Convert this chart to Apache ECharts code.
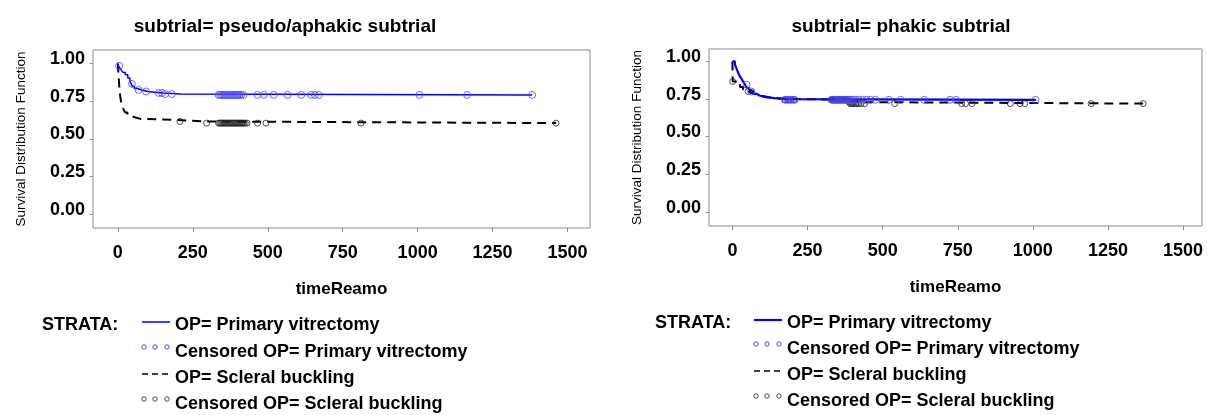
<!DOCTYPE html>
<html>
<head>
<meta charset="utf-8">
<script src="https://cdn.jsdelivr.net/npm/echarts@6.0.0/dist/echarts.min.js"></script>
<style>
  html, body { margin: 0; padding: 0; background: #fff; }
  #chart { width: 1207px; height: 415px; }
</style>
</head>
<body>
<div id="chart"></div>
<script>
// Kaplan-Meier survival estimates by operation, two subtrials.
// Step curves: times (days) and survival at each step.

const panelTitles = ['subtrial= pseudo/aphakic subtrial', 'subtrial= phakic subtrial'];
const xTicks = [0, 250, 500, 750, 1000, 1250, 1500];
const yTicks = [0, 0.25, 0.5, 0.75, 1.0];
const legendLabels = [
  'OP= Primary vitrectomy',
  'Censored OP= Primary vitrectomy',
  'OP= Scleral buckling',
  'Censored OP= Scleral buckling'
];

// --- pseudo/aphakic subtrial ---
const pvAphTime = [0, 2, 6, 12, 18, 25, 33, 40, 44, 48, 55, 65, 80, 100, 150, 210, 1382];
const pvAphSurv = [1.0, 0.985, 0.97, 0.955, 0.94, 0.925, 0.905, 0.885, 0.865, 0.85, 0.835, 0.825, 0.815, 0.805, 0.798, 0.792, 0.792];
const pvAphCens = [4, 47, 69, 94, 136, 147, 158, 180, 336, 341, 346, 351, 356, 361, 366, 371, 376, 381, 386, 391, 396, 401, 406, 411, 419, 466, 487, 520, 566, 612, 645, 657, 670, 1006, 1165, 1382];

const sbAphTime = [0, 1, 2, 3, 4, 5, 6, 8, 10, 13, 16, 20, 25, 32, 40, 50, 62, 75, 200, 290, 1462];
const sbAphSurv = [1.0, 0.96, 0.93, 0.9, 0.87, 0.84, 0.81, 0.78, 0.755, 0.73, 0.71, 0.69, 0.675, 0.66, 0.648, 0.64, 0.633, 0.626, 0.616, 0.605, 0.605];
const sbAphCens = [207, 296, 336, 340, 344, 348, 352, 356, 360, 364, 368, 372, 376, 380, 384, 388, 392, 396, 400, 404, 408, 412, 416, 420, 425, 431, 466, 494, 811, 1462];

// --- phakic subtrial ---
const pvPhaTime = [0, 8, 12, 16, 20, 25, 30, 36, 42, 48, 55, 62, 70, 80, 92, 110, 140, 175, 1010];
const pvPhaSurv = [1.0, 0.98, 0.96, 0.94, 0.92, 0.9, 0.885, 0.865, 0.845, 0.825, 0.81, 0.8, 0.785, 0.772, 0.763, 0.756, 0.75, 0.745, 0.745];
const pvPhaCens = [47, 63, 175, 182, 190, 198, 207, 330, 335, 340, 345, 350, 355, 360, 365, 370, 375, 380, 385, 390, 395, 402, 410, 420, 433, 446, 459, 476, 521, 560, 638, 724, 744, 1009];

const sbPhaTime = [0, 1, 15, 25, 35, 45, 55, 65, 80, 100, 130, 170, 385, 392, 1367];
const sbPhaSurv = [1.0, 0.867, 0.85, 0.83, 0.815, 0.8, 0.79, 0.78, 0.77, 0.76, 0.752, 0.745, 0.73, 0.72, 0.72];
const sbPhaCens = [1, 52, 175, 185, 195, 205, 330, 334, 338, 342, 346, 350, 354, 358, 362, 366, 370, 374, 378, 382, 388, 392, 396, 400, 405, 410, 415, 420, 428, 440, 540, 763, 776, 797, 925, 957, 973, 1194, 1367];

const FONT = '"Liberation Sans", Arial, Helvetica, sans-serif';
const BLUE = '#0000ff';
const BLUE_CENS = '#4a4aff';
const BLACK = '#000000';

function pairs(t, s) { return t.map((v, i) => [v, s[i]]); }
// survival level of a step curve at time x
function levelAt(t, s, x) {
  let v = s[0];
  for (let i = 0; i < t.length; i++) { if (t[i] <= x) v = s[i]; }
  return v;
}
function censPoints(t, s, c) { return c.map(x => [x, levelAt(t, s, x)]); }

const grids = [
  { left: 93, right: 617, top: 50, bottom: 187 },
  { left: 709, right: 5, top: 49, bottom: 189 }
];
const xRanges = [[-83, 1575], [-78, 1563]];
const yRanges = [[-0.091, 1.09], [-0.092, 1.082]];

const option = {
  backgroundColor: '#fff',
  animation: false,
  grid: grids.map(g => Object.assign({ show: true, borderColor: '#8c8c8c', borderWidth: 1, backgroundColor: '#fff' }, g)),
  xAxis: [0, 1].map(i => ({
    type: 'value', gridIndex: i, min: xRanges[i][0], max: xRanges[i][1], position: 'bottom',
    name: 'timeReamo', nameLocation: 'middle', nameGap: 53,
    nameTextStyle: { fontFamily: FONT, fontSize: 17, fontWeight: 'bold', color: '#000' },
    axisLine: { show: false, onZero: false },
    axisTick: { show: true, length: 4, customValues: xTicks, lineStyle: { color: '#8c8c8c' } },
    axisLabel: { customValues: xTicks, margin: 16, fontFamily: FONT, fontSize: 18, fontWeight: 'bold', color: '#000',
      formatter: v => String(v) },
    splitLine: { show: false }
  })),
  yAxis: [0, 1].map(i => ({
    type: 'value', gridIndex: i, min: yRanges[i][0], max: yRanges[i][1], position: 'left',
    name: 'Survival Distribution Function', nameLocation: 'middle', nameGap: 65,
    nameTextStyle: { fontFamily: FONT, fontSize: 13.5, color: '#000' },
    axisLine: { show: false, onZero: false },
    axisTick: { show: true, length: 3, customValues: yTicks, lineStyle: { color: '#8c8c8c' } },
    axisLabel: { customValues: yTicks, margin: 8, fontFamily: FONT, fontSize: 18, fontWeight: 'bold', color: '#000',
      verticalAlign: 'bottom', lineHeight: 9, formatter: v => v.toFixed(2) },
    splitLine: { show: false }
  })),
  series: []
};

const curves = [
  [pvAphTime, pvAphSurv, pvAphCens, sbAphTime, sbAphSurv, sbAphCens, 1.5],
  [pvPhaTime, pvPhaSurv, pvPhaCens, sbPhaTime, sbPhaSurv, sbPhaCens, 2.2]
];
curves.forEach((c, i) => {
  option.series.push(
    { type: 'line', name: 'OP=Scleral buckling', xAxisIndex: i, yAxisIndex: i, step: 'end', showSymbol: false,
      data: pairs(c[3], c[4]), lineStyle: { color: BLACK, width: 2, type: [9, 6] }, z: 2 },
    { type: 'line', name: 'OP=Primary vitrectomy', xAxisIndex: i, yAxisIndex: i, step: 'end', showSymbol: false,
      data: pairs(c[0], c[1]), lineStyle: { color: BLUE, width: c[6] }, z: 3 },
    { type: 'scatter', name: 'Censored SB', xAxisIndex: i, yAxisIndex: i, symbol: 'circle', symbolSize: 6,
      data: censPoints(c[3], c[4], c[5]),
      itemStyle: { color: 'rgba(255,255,255,0)', borderColor: '#222', borderWidth: 1 }, z: 4 },
    { type: 'scatter', name: 'Censored PV', xAxisIndex: i, yAxisIndex: i, symbol: 'circle', symbolSize: 7,
      data: censPoints(c[0], c[1], c[2]),
      itemStyle: { color: 'rgba(255,255,255,0)', borderColor: BLUE_CENS, borderWidth: 1 }, z: 5 }
  );
});

// Titles and STRATA legend blocks
const graphics = [];
const titleX = [285, 901];
panelTitles.forEach((t, i) => graphics.push({
  type: 'text', x: titleX[i], y: 27,
  style: { text: t, font: 'bold 19px ' + FONT, fill: '#000', align: 'center', verticalAlign: 'middle' }
}));

const legendGeo = [
  { strataX: 42, sampleX: 142, textX: 175, rows: [325, 352, 378, 404] },
  { strataX: 655, sampleX: 754, textX: 787, rows: [323, 349, 375, 401] }
];
legendGeo.forEach((g, i) => {
  graphics.push({ type: 'text', x: g.strataX, y: g.rows[0],
    style: { text: 'STRATA:', font: 'bold 18px ' + FONT, fill: '#000', verticalAlign: 'middle' } });
  legendLabels.forEach((lab, r) => graphics.push({ type: 'text', x: g.textX, y: g.rows[r],
    style: { text: lab, font: 'bold 18px ' + FONT, fill: '#000', verticalAlign: 'middle' } }));
  const sx = g.sampleX;
  graphics.push({ type: 'line', shape: { x1: sx, y1: g.rows[0] - 3, x2: sx + 28, y2: g.rows[0] - 3 },
    style: { stroke: BLUE, lineWidth: i === 0 ? 1.5 : 2.2 } });
  graphics.push({ type: 'line', shape: { x1: sx, y1: g.rows[2] - 4, x2: sx + 27, y2: g.rows[2] - 4 },
    style: { stroke: BLACK, lineWidth: 1.5, lineDash: [6, 4] } });
  [2, 13, 25].forEach(dx => {
    graphics.push({ type: 'circle', shape: { cx: sx + dx, cy: g.rows[1] - 5, r: 2.2 },
      style: { fill: '#fff', stroke: BLUE_CENS, lineWidth: 1 } });
    graphics.push({ type: 'circle', shape: { cx: sx + dx, cy: g.rows[3] - 5, r: 2.2 },
      style: { fill: '#fff', stroke: '#444', lineWidth: 1 } });
  });
});
option.graphic = graphics;

const chart = echarts.init(document.getElementById('chart'), null, { renderer: 'canvas' });
chart.setOption(option);
</script>
</body>
</html>
